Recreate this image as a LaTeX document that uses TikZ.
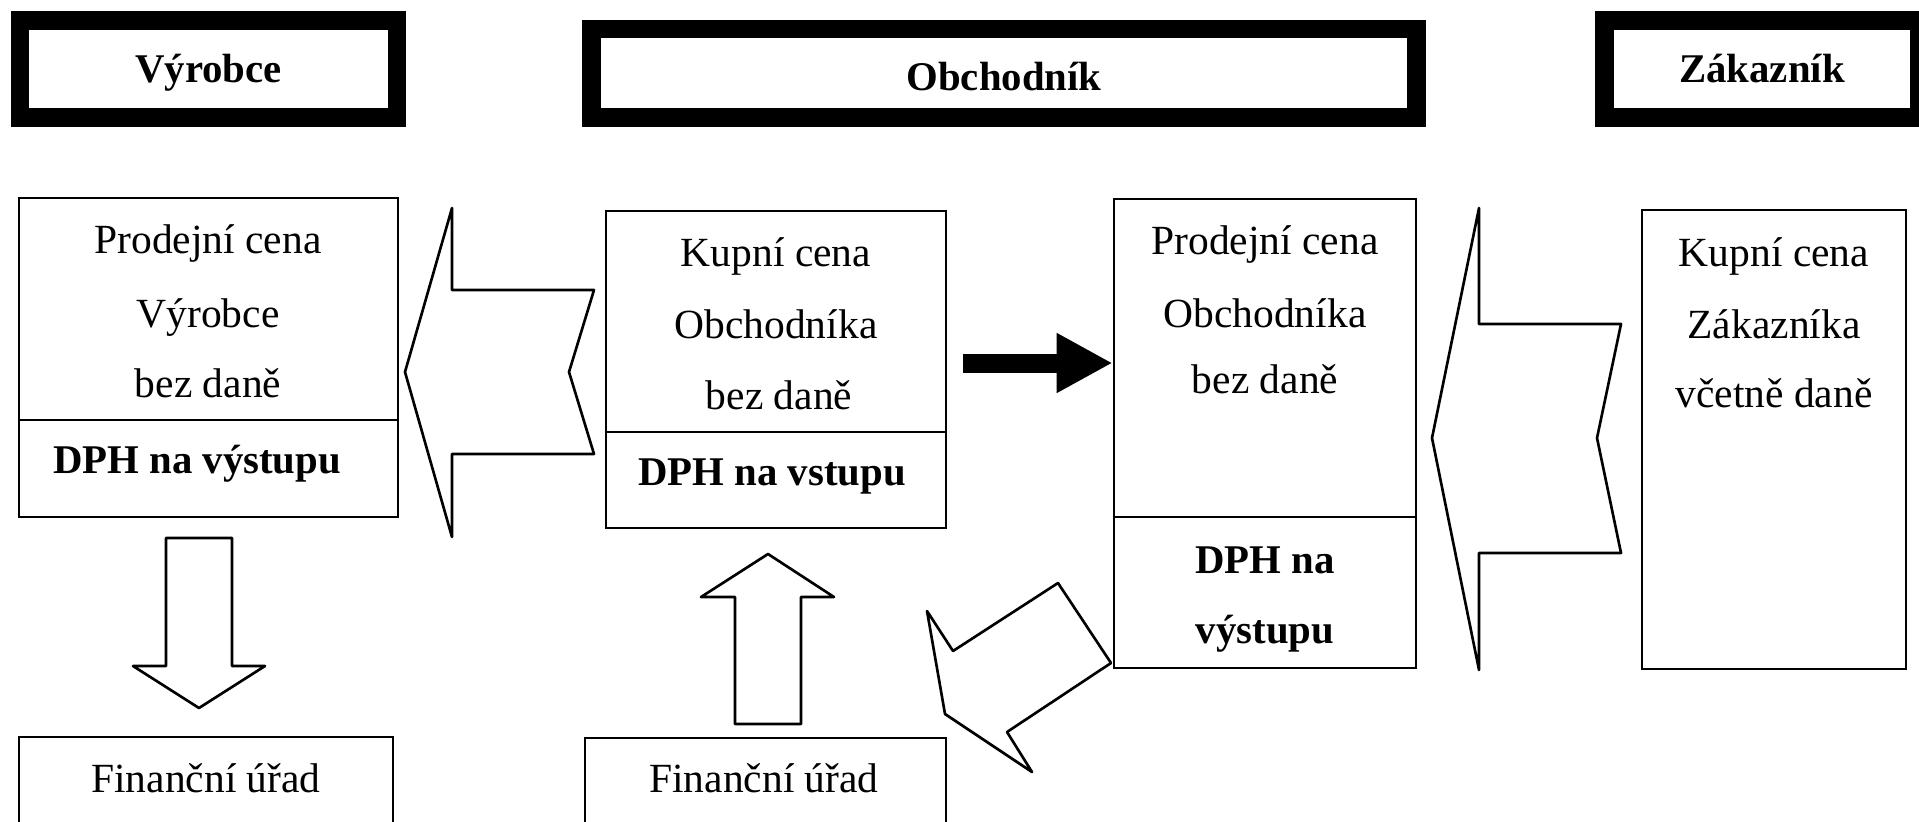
\documentclass[tikz,border=0pt]{standalone}
\usepackage{fontspec}
\setmainfont{Liberation Serif}
\usepackage{tikz}
\usetikzlibrary{arrows.meta}

\begin{document}
\begin{tikzpicture}[x=0.01cm, y=-0.01cm,
        hdr/.style={draw, line width=0.185cm, inner sep=0pt, text height=0.27cm, text depth=0pt, font=\fontsize{11.6}{14}\selectfont\bfseries},
        pbox/.style={draw, line width=0.75pt, inner sep=0pt},
        txt/.style={anchor=base, inner sep=0pt, font=\fontsize{11.8}{14}\selectfont},
        btxt/.style={anchor=base, inner sep=0pt, font=\fontsize{11.6}{14}\selectfont\bfseries},
        blockarrow/.style={draw, line width=0.75pt, line join=round}]
        \useasboundingbox (0, 0) rectangle (1919, 821);

        % hlavicky
        \node[hdr, minimum width=3.77cm, minimum height=0.97cm] (vyrobce) at (208.5, 69) {Výrobce};
        \node[hdr, text height=0.335cm, minimum width=8.245cm, minimum height=0.885cm] (obchodnik) at (1004, 73.25) {Obchodník};
        \node[hdr, minimum width=3.15cm, minimum height=0.97cm] (zakaznik) at (1762, 69) {Zákazník};

        % ceny
        \node[pbox, minimum width=3.79cm, minimum height=3.19cm] (prodVyr) at (208.5, 357.5) {};
        \node[pbox, minimum width=3.40cm, minimum height=3.17cm] (kupObch) at (776, 369.5) {};
        \node[pbox, minimum width=3.02cm, minimum height=4.69cm] (prodObch) at (1265, 433.5) {};
        \node[pbox, minimum width=2.64cm, minimum height=4.59cm] (kupZak) at (1774, 439.5) {};
        \node[pbox, minimum width=3.74cm, minimum height=1.63cm] (finVyr) at (206, 818.5) {};
        \node[pbox, minimum width=3.61cm, minimum height=1.62cm] (finObch) at (765.5, 819) {};

        \draw[line width=0.75pt] (prodVyr.west |- 0, 420) -- (prodVyr.east |- 0, 420);
        \draw[line width=0.75pt] (kupObch.west |- 0, 432) -- (kupObch.east |- 0, 432);
        \draw[line width=0.75pt] (prodObch.west |- 0, 517) -- (prodObch.east |- 0, 517);

        \node[txt] (pv1) at (208, 253) {Prodejní cena};
        \node[txt] (pv2) at (208, 327) {Výrobce};
        \node[txt] (pv3) at (208, 397) {bez daně};
        \node[btxt] (pv4) at (197, 473) {DPH na výstupu};

        \node[txt] (ko1) at (776, 266) {Kupní cena};
        \node[txt] (ko2) at (776, 338) {Obchodníka};
        \node[txt] (ko3) at (779, 409) {bez daně};
        \node[btxt] (ko4) at (772, 485) {DPH na vstupu};

        \node[txt] (po1) at (1265, 254) {Prodejní cena};
        \node[txt] (po2) at (1265, 327) {Obchodníka};
        \node[txt] (po3) at (1265, 393) {bez daně};
        \node[btxt] (po4) at (1265, 573) {DPH na};
        \node[btxt] (po5) at (1265, 643) {výstupu};

        \node[txt] (kz1) at (1774, 266) {Kupní cena};
        \node[txt] (kz2) at (1774, 338) {Zákazníka};
        \node[txt] (kz3) at (1774, 407) {včetně daně};

        \node[txt] (fv) at (206, 792) {Finanční úřad};
        \node[txt] (fo) at (764, 792) {Finanční úřad};

        % sipky
        \draw[blockarrow] (405, 372) -- (452, 208) -- (452, 290) -- (594, 290) -- (569, 372)
            -- (594, 454) -- (452, 454) -- (452, 537) -- cycle;
        \draw[blockarrow] (1432, 438) -- (1479, 208) -- (1479, 324) -- (1621, 324) -- (1597, 438)
            -- (1621, 553) -- (1479, 553) -- (1479, 670) -- cycle;
        \draw[blockarrow] (166, 538) -- (232, 538) -- (232, 666) -- (265, 666) -- (199, 708)
            -- (133, 666) -- (166, 666) -- cycle;
        \draw[blockarrow] (768, 554) -- (834, 597) -- (801, 597) -- (801, 724) -- (735, 724)
            -- (735, 597) -- (701, 597) -- cycle;
        \draw[blockarrow] (945, 714) -- (927, 611) -- (953, 651) -- (1058, 583) -- (1111, 663)
            -- (1007, 732) -- (1032, 772) -- cycle;

        \coordinate (blkStart) at (963, 363);
        \draw[line width=0.19cm, -{Triangle[length=0.56cm, width=0.56cm]}] (blkStart) -- (prodObch.west |- blkStart);
    \end{tikzpicture}
\end{document}
